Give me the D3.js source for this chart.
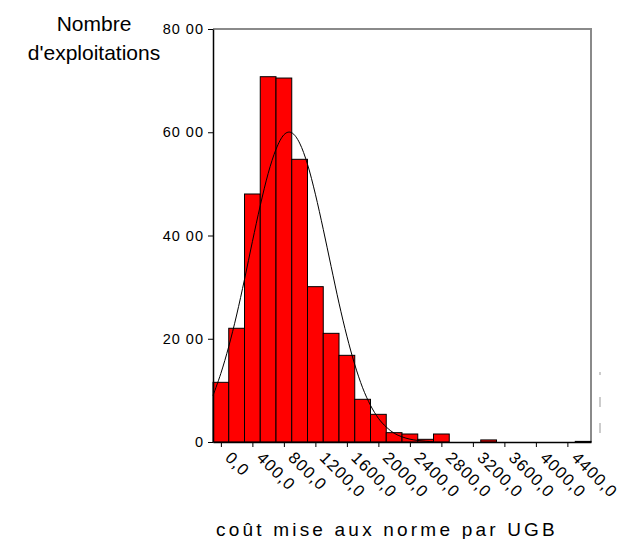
<!DOCTYPE html>
<html lang="fr">
<head>
    <meta charset="UTF-8">
    <title>Histogramme</title>
    <script src="https://d3js.org/d3.v7.min.js"></script>
    <style>
        body { margin: 0; background: #fff; }
        text { font-family: "Liberation Sans", Arial, sans-serif; fill: #000; }
    </style>
</head>
<body>
<svg></svg>
<script>
    // bin centres (bins are 200 wide) and counts
    var binCenters = [0, 200, 400, 600, 800, 1000, 1200, 1400, 1600, 1800, 2000, 2200, 2400, 2600, 2800, 3400, 4600];
    var binCounts  = [1156, 2203, 4804, 7076, 7050, 5476, 3009, 2105, 1679, 827, 536, 181, 155, 52, 155, 40, 12];

    // normal curve
    var curveX = [-100, 0, 100, 200, 300, 400, 500, 600, 700, 800, 900, 1000, 1100, 1200, 1300, 1400, 1500, 1600, 1700, 1800, 1900, 2000, 2100, 2200, 2300, 2400, 2500, 2600, 2700];
    var curveY = [900, 1330, 1850, 2460, 3150, 3880, 4580, 5200, 5670, 5950, 5990, 5790, 5380, 4800, 4120, 3400, 2690, 2050, 1500, 1050, 710, 460, 290, 170, 100, 55, 30, 15, 7];

    var xTicks = [0, 400, 800, 1200, 1600, 2000, 2400, 2800, 3200, 3600, 4000, 4400];
    var xTickLabels = ["0,0", "400,0", "800,0", "1200,0", "1600,0", "2000,0", "2400,0", "2800,0", "3200,0", "3600,0", "4000,0", "4400,0"];
    var yTicks = [0, 2000, 4000, 6000, 8000];
    var yTickLabels = ["0", "20 00", "40 00", "60 00", "80 00"];

    var width = 617, height = 539;
    var svg = d3.select("svg").attr("width", width).attr("height", height);

    var plotLeft = 213, plotRight = 591, plotTop = 29, plotBottom = 442;

    var x = d3.scaleLinear().domain([-100, 4700]).range([plotLeft, plotRight]);
    var y = d3.scaleLinear().domain([0, 8000]).range([plotBottom, plotTop]);

    // frame (top and right in grey)
    svg.append("path")
        .attr("d", "M" + plotLeft + "," + plotTop + "H" + plotRight + "V" + plotBottom)
        .attr("fill", "none")
        .attr("stroke", "#8a8a8a")
        .attr("stroke-width", 2);

    // bars
    svg.selectAll("rect.bar")
        .data(binCenters)
        .enter()
        .append("rect")
        .attr("class", "bar")
        .attr("x", function (d) { return x(d - 100); })
        .attr("width", function (d) { return x(d + 100) - x(d - 100); })
        .attr("y", function (d, i) { return y(binCounts[i]); })
        .attr("height", function (d, i) { return y(0) - y(binCounts[i]); })
        .attr("fill", "#ff0000")
        .attr("stroke", "#000")
        .attr("stroke-width", 1);

    // normal curve
    var line = d3.line()
        .x(function (d) { return x(d); })
        .y(function (d, i) { return y(curveY[i]); })
        .curve(d3.curveCardinal);
    svg.append("path")
        .datum(curveX)
        .attr("d", line)
        .attr("fill", "none")
        .attr("stroke", "#000")
        .attr("stroke-width", 1);

    // y axis
    var yAxis = d3.axisLeft(y)
        .tickValues(yTicks)
        .tickSize(5)
        .tickSizeOuter(0)
        .tickPadding(4)
        .tickFormat(function (d, i) { return yTickLabels[i]; });
    var gy = svg.append("g")
        .attr("transform", "translate(" + plotLeft + ",0)")
        .call(yAxis);
    gy.select(".domain").attr("stroke", "#000").attr("stroke-width", 1.5);
    gy.selectAll("text")
        .style("font-size", "14.5px")
        .style("letter-spacing", "1px")
        .style("font-family", "'Liberation Sans', Arial, sans-serif");

    // x axis
    var xAxis = d3.axisBottom(x)
        .tickValues(xTicks)
        .tickSize(5)
        .tickSizeOuter(0)
        .tickFormat(function (d, i) { return xTickLabels[i]; });
    var gx = svg.append("g")
        .attr("transform", "translate(0," + plotBottom + ")")
        .call(xAxis);
    gx.select(".domain").attr("stroke", "#000").attr("stroke-width", 1.5);
    gx.selectAll("text")
        .attr("text-anchor", "start")
        .attr("transform", "rotate(45)")
        .attr("dy", "0.35em")
        .attr("y", 4)
        .attr("x", 14)
        .style("font-size", "16.5px")
        .style("letter-spacing", "1px")
        .style("font-family", "'Liberation Sans', Arial, sans-serif");

    // y title
    svg.append("text")
        .attr("x", 94).attr("y", 31)
        .attr("text-anchor", "middle")
        .style("font-size", "21px")
        .text("Nombre");
    svg.append("text")
        .attr("x", 94).attr("y", 60)
        .attr("text-anchor", "middle")
        .style("font-size", "21px")
        .text("d'exploitations");

    // x title
    svg.append("text")
        .attr("x", 387).attr("y", 536)
        .attr("text-anchor", "middle")
        .style("font-size", "19px")
        .style("letter-spacing", "3.2px")
        .text("coût mise aux norme par UGB");

    // clipped legend remnants at the right edge
    var stubs = [[372, 375], [397, 407], [423, 433]];
    svg.selectAll("line.stub")
        .data(stubs)
        .enter()
        .append("line")
        .attr("class", "stub")
        .attr("x1", plotRight + 9).attr("x2", plotRight + 9)
        .attr("y1", function (d) { return d[0]; })
        .attr("y2", function (d) { return d[1]; })
        .attr("stroke", "#999")
        .attr("stroke-width", 1);
</script>
</body>
</html>
